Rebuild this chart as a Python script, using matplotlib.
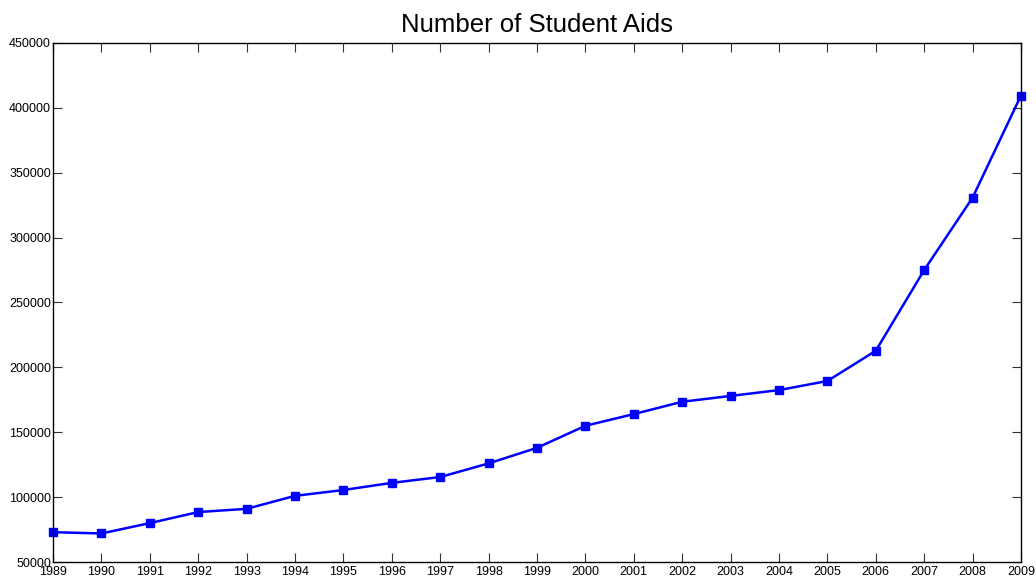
"""Number of student aids per year, MATLAB-style line chart."""

import matplotlib

matplotlib.use("Agg")
from matplotlib import pyplot as plt

plt.rcParams["font.family"] = ["Liberation Sans", "DejaVu Sans"]

years = [1989, 1990, 1991, 1992, 1993, 1994, 1995, 1996, 1997, 1998, 1999,
         2000, 2001, 2002, 2003, 2004, 2005, 2006, 2007, 2008, 2009]
aids = [73000, 72000, 80000, 88500, 91000, 101000, 105500, 111000, 115500,
        126000, 138000, 155000, 164000, 173500, 178000, 182500, 189500,
        212800, 275000, 330800, 409500]
y_ticks = [50000, 100000, 150000, 200000, 250000, 300000, 350000, 400000, 450000]

fig = plt.figure(figsize=(10.36, 5.8), dpi=100)
ax = fig.add_axes([0.0512, 0.031, 0.9343, 0.8949])

ax.plot(years, aids, color="#0000ff", linewidth=1.8, marker="s",
        markersize=6.3, markerfacecolor="#0000ff", markeredgecolor="#0000ff",
        clip_on=False)

ax.set_xlim(years[0], years[-1])
ax.set_ylim(y_ticks[0], y_ticks[-1])
ax.set_xticks(years)
ax.set_xticklabels([str(y) for y in years])
ax.set_yticks(y_ticks)
ax.set_yticklabels([str(v) for v in y_ticks])

ax.tick_params(direction="in", length=6.5, width=0.8, color="#333333",
               top=True, right=True, labelsize=9)
ax.tick_params(axis="x", pad=3)
ax.tick_params(axis="y", pad=1.5)
for spine in ax.spines.values():
    spine.set_linewidth(1.0)
    spine.set_color("black")

ax.set_title("Number of Student Aids", fontsize=18.5, pad=8)

fig.savefig("out.png", dpi=100)
